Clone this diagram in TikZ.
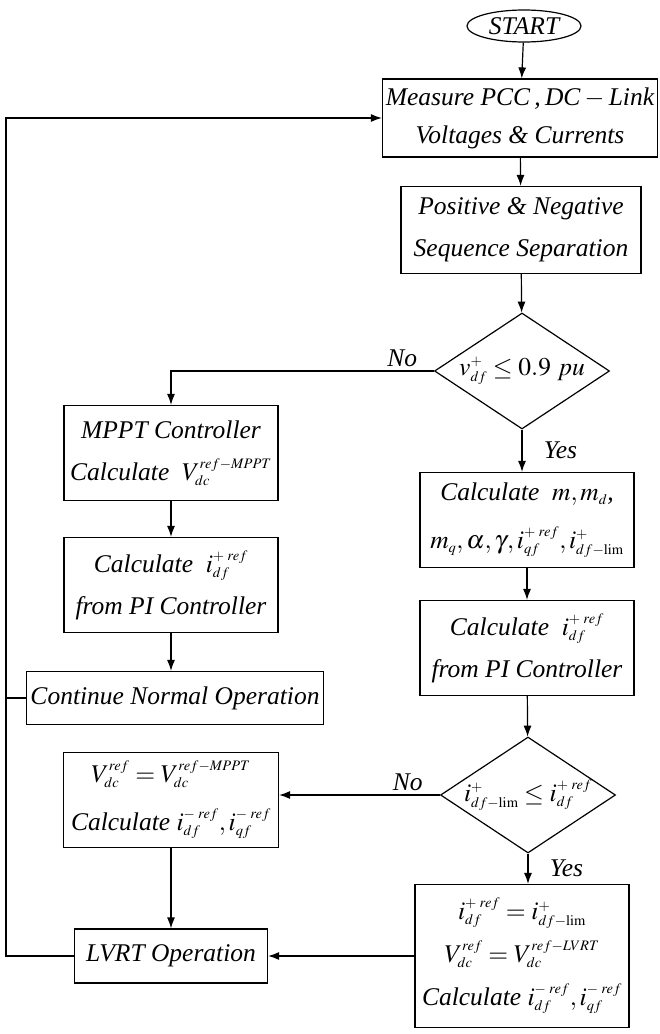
\documentclass[tikz,border=0pt]{standalone}
\usepackage{mathptmx}
\usepackage[no-math]{fontspec}
\setmainfont{Liberation Serif}
\usetikzlibrary{shapes.geometric,arrows.meta}
\DeclareMathSizes{25.5}{25.5}{14.5}{11}

\tikzset{
  line/.style={line width=1.2pt},
  arr/.style={line, -{Latex[length=11pt,width=8pt]}},
  box/.style={draw, line, align=center, inner sep=0pt, font=\fontsize{25.5}{42}\selectfont\itshape},
  decision/.style={draw, line, diamond, aspect=1.5, minimum width=175pt, minimum height=116pt, inner sep=-6pt, font=\fontsize{25.5}{30}\selectfont\itshape},
  lbl/.style={font=\fontsize{25.5}{28}\selectfont\itshape}
}

\begin{document}
\begin{tikzpicture}[x=1pt, y=-1pt]
  \useasboundingbox (0,0) rectangle (659,1034);
  \node[draw, line, ellipse, minimum width=114pt, minimum height=32pt, inner sep=0pt, lbl] (start) at (524,26) {START};
  \node[box, minimum width=275pt, minimum height=78pt, font=\fontsize{25.5}{38}\selectfont\itshape] (meas) at (520,118) {Measure PCC\,,\,DC\,$-$\,Link\\Voltages \& Currents};
  \node[box, minimum width=240pt, minimum height=87pt] (seq) at (521,230) {Positive \& Negative\\Sequence Separation};
  \node[decision] (dv) at (522,371) {$v_{df}^{+}\leq 0.9\ pu$};
  \node[box, minimum width=214pt, minimum height=95pt] (mppt) at (171,453) {MPPT Controller\\Calculate\ \ $V_{dc}^{ref-MPPT}$};
  \node[box, minimum width=214pt, minimum height=95pt] (pil) at (171,585) {Calculate\ \ $i_{df}^{+\;ref}$\\from PI Controller};
  \node[box, minimum width=297pt, minimum height=53pt] (cont) at (175,698) {Continue Normal Operation};
  \node[box, minimum width=214pt, minimum height=95pt, font=\fontsize{25.5}{48}\selectfont\itshape] (calcm) at (527,520) {Calculate\ \ $m, m_{d}$,\\$m_{q}, \alpha, \gamma, i_{qf}^{+\;ref}, i_{df-\lim}^{+}$};
  \node[box, minimum width=214pt, minimum height=95pt] (pir) at (527,648) {Calculate\ \ $i_{df}^{+\;ref}$\\from PI Controller};
  \node[decision] (di) at (528,795) {$i_{df-\lim}^{+}\leq i_{df}^{+\;ref}$};
  \node[box, minimum width=215pt, minimum height=95pt, font=\fontsize{25.5}{48}\selectfont\itshape] (vdc) at (171,800) {$V_{dc}^{ref} = V_{dc}^{ref-MPPT}$\\Calculate $i_{df}^{-\;ref}, i_{qf}^{-\;ref}$};
  \node[box, minimum width=193pt, minimum height=54pt] (lvrt) at (171,956) {LVRT Operation};
  \node[box, minimum width=214pt, minimum height=143pt, font=\fontsize{25.5}{43}\selectfont\itshape] (fin) at (522,956) {$i_{df}^{+\;ref} = i_{df-\lim}^{+}$\\$V_{dc}^{ref} = V_{dc}^{ref-LVRT}$\\Calculate $i_{df}^{-\;ref}, i_{qf}^{-\;ref}$};
  \coordinate (back) at (6,0);

  \draw[arr] (start) -- (meas);
  \draw[arr] (meas) -- (seq);
  \draw[arr] (seq) -- (dv);
  \draw[arr] (dv.west) -| node[lbl, pos=0.06, above] {No} (mppt.north);
  \draw[arr] (dv.south) -- node[lbl, right=18pt] {Yes} (dv.south |- calcm.north);
  \draw[arr] (mppt) -- (pil);
  \draw[arr] (pil) -- (cont.north -| pil);
  \draw[arr] (calcm) -- (pir);
  \draw[arr] (pir) -- (di);
  \draw[arr] (di.west) -- node[lbl, pos=0.2, above] {No} (di.west -| vdc.east);
  \draw[arr] (di.south) -- node[lbl, right=18pt] {Yes} (di.south |- fin.north);
  \draw[arr] (vdc) -- (lvrt);
  \draw[arr] (fin) -- (lvrt);
  \draw[arr] (lvrt.west) -- (lvrt.west -| back) |- (meas.west);
  \draw[line] (cont.west) -- (cont.west -| back);
\end{tikzpicture}
\end{document}
